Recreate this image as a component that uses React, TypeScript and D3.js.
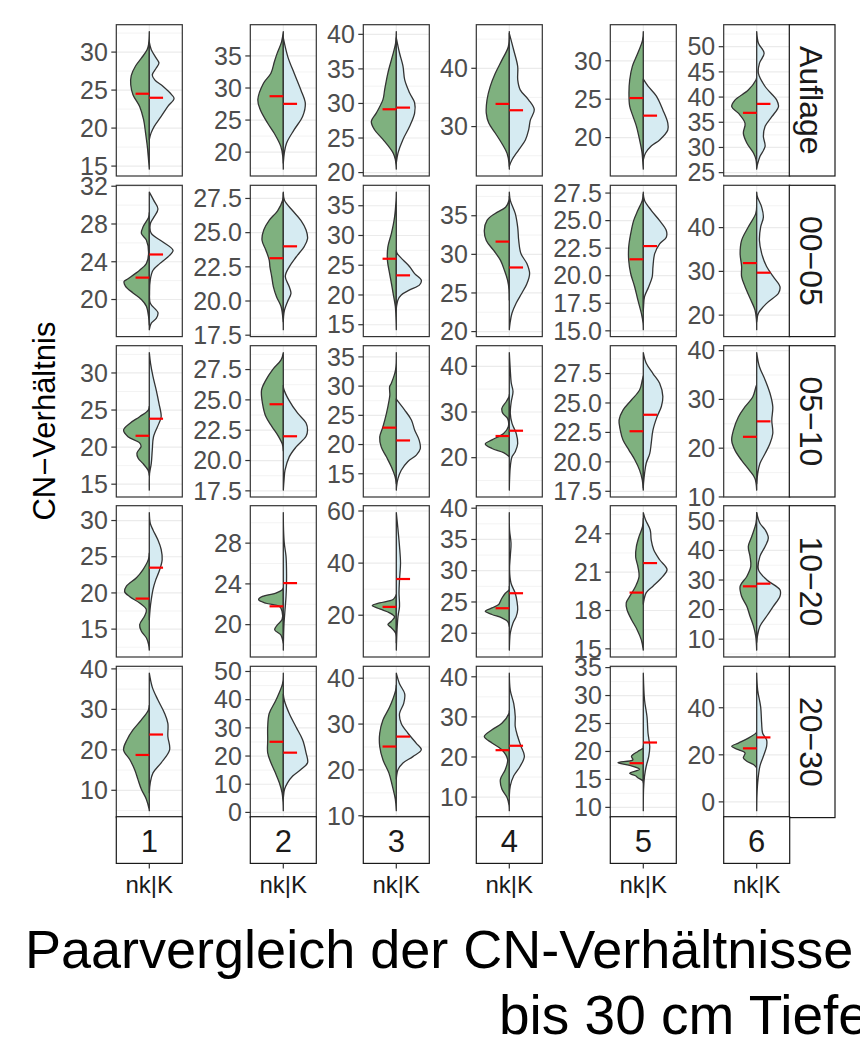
import React from "react";
import * as d3 from "d3";

type Prof = [number, number][]; // [CN value, relative density 0..1]

const depths = ["Auflage", "00−05", "05−10", "10−20", "20−30"];
const sites = ["1", "2", "3", "4", "5", "6"];
const xCategory = "nk|K";
const yTitle = "CN−Verhältnis";
const titleLines = ["Paarvergleich der CN-Verhältnisse", "bis 30 cm Tiefe"];

// y breaks, one list per site, one array per depth
const ticksAuflage = [[15, 20, 25, 30], [20, 25, 30, 35], [20, 25, 30, 35, 40], [30, 40], [20, 25, 30], [25, 30, 35, 40, 45, 50]];
const ticks0005 = [[20, 24, 28, 32], [17.5, 20, 22.5, 25, 27.5], [15, 20, 25, 30, 35], [20, 25, 30, 35], [15, 17.5, 20, 22.5, 25, 27.5], [20, 30, 40]];
const ticks0510 = [[15, 20, 25, 30], [17.5, 20, 22.5, 25, 27.5], [15, 20, 25, 30, 35], [20, 30, 40], [17.5, 20, 22.5, 25, 27.5], [10, 20, 30, 40]];
const ticks1020 = [[15, 20, 25, 30], [20, 24, 28], [20, 40, 60], [20, 25, 30, 35, 40], [15, 18, 21, 24], [10, 20, 30, 40, 50]];
const ticks2030 = [[10, 20, 30, 40], [0, 10, 20, 30, 40, 50], [10, 20, 30, 40], [10, 20, 30, 40], [10, 15, 20, 25, 30, 35], [0, 20, 40]];

// medians (red marks)
const medNk = [
  [24.52, 28.72, 29.16, 33.89, 25.15, 36.87],
  [22.32, 23.13, 26.09, 31.65, 21.49, 31.9],
  [21.53, 24.64, 22.89, 24.74, 22.6, 22.33],
  [19.22, 21.8, 23.2, 24.0, 19.4, 27.87],
  [18.73, 25.06, 25.1, 21.7, 17.9, 22.75],
];
const medK = [
  [23.99, 27.53, 29.4, 32.8, 22.86, 38.65],
  [24.77, 24.0, 23.3, 28.3, 22.69, 29.7],
  [23.83, 22.0, 20.7, 25.9, 24.0, 25.5],
  [23.49, 24.08, 33.9, 26.4, 21.71, 28.76],
  [23.78, 21.2, 27.27, 22.8, 21.6, 27.4],
];

// half-violin profiles
const nkAuflage: Prof[] = [
  [[32.7, 0], [31, 0.03], [30.3, 0.09], [29.2, 0.32], [28.2, 0.55], [26.9, 0.73], [25.7, 0.75], [24.4, 0.66], [22.85, 0.39], [21.1, 0.23], [19.34, 0.15], [17.6, 0.08], [15.8, 0.03], [14.6, 0]],
  [[38.8, 0], [37.2, 0.07], [35.4, 0.25], [34.1, 0.36], [32.3, 0.5], [30.75, 0.8], [28.15, 1.03], [26.6, 0.93], [24.5, 0.63], [22.9, 0.36], [20.9, 0.1], [19.3, 0.02], [17.35, 0]],
  [[40.4, 0], [38.7, 0.03], [36.8, 0.16], [34.4, 0.34], [32, 0.47], [30.55, 0.54], [28.6, 0.81], [27.4, 1.01], [26.2, 0.88], [24.8, 0.54], [22.85, 0.13], [21.9, 0.04], [20.5, 0]],
  [[46.3, 0], [43.7, 0.04], [41.4, 0.3], [39.1, 0.57], [36.9, 0.77], [34.6, 0.9], [32.3, 0.93], [30.6, 0.83], [28.9, 0.57], [27.1, 0.3], [25.4, 0.09], [23.7, 0.01], [22.7, 0]],
  [[33.8, 0], [32.7, 0.03], [31, 0.22], [29.3, 0.44], [27.5, 0.55], [25.8, 0.58], [24.1, 0.55], [22.8, 0.42], [21.5, 0.28], [19.7, 0.15], [18, 0.05], [16.3, 0.01], [15.9, 0]],
  [[43.9, 0], [43.4, 0.03], [41.4, 0.34], [39.4, 0.88], [38.1, 1.01], [36.8, 0.74], [34.8, 0.47], [32.85, 0.54], [30.9, 0.4], [28.9, 0.13], [27.6, 0.03], [25.7, 0]],
];
const kAuflage: Prof[] = [
  [[31.3, 0], [30.3, 0.08], [29.2, 0.28], [28.55, 0.39], [27.9, 0.28], [27.0, 0.12], [26.35, 0.22], [25.5, 0.55], [24.4, 0.9], [23.9, 1.0], [22.85, 0.75], [21.54, 0.48], [20.22, 0.2], [19.34, 0.07], [18.5, 0]],
  [[37.8, 0], [34.9, 0.18], [32.3, 0.44], [29.7, 0.71], [27.6, 0.89], [25.55, 0.78], [23.5, 0.44], [21.4, 0.13], [19.85, 0.04], [18.3, 0]],
  [[39.5, 0], [37.3, 0.13], [35.4, 0.27], [33.4, 0.34], [31.5, 0.54], [30.1, 0.74], [28.6, 0.74], [26.7, 0.54], [24.8, 0.27], [22.85, 0.07], [21.4, 0]],
  [[46, 0], [43.1, 0.18], [40.3, 0.34], [38, 0.34], [36.3, 0.44], [34.6, 0.78], [32.9, 1.01], [31.1, 0.85], [29.4, 0.78], [27.7, 0.65], [26, 0.38], [24.3, 0.11], [23.2, 0]],
  [[27.6, 0], [26.7, 0.19], [25.4, 0.53], [23.6, 0.79], [21.9, 0.99], [21, 0.99], [19.7, 0.66], [18.9, 0.32], [18, 0.09], [17.1, 0]],
  [[53, 0], [50.7, 0.07], [48.7, 0.3], [46.7, 0.11], [44.7, 0.07], [42.1, 0.34], [39.4, 0.81], [38.1, 0.88], [36.1, 0.61], [34.2, 0.34], [32.2, 0.27], [30.2, 0.34], [28.2, 0.13], [26.6, 0.03], [26, 0]],
];
const nk0005: Prof[] = [
  [[29.2, 0], [28.7, 0.03], [27.7, 0.25], [27, 0.32], [26.3, 0.12], [24.9, 0.03], [23.8, 0.12], [23.1, 0.39], [22.2, 0.86], [21.9, 1.02], [21.4, 0.96], [20.7, 0.66], [20, 0.32], [19.3, 0.12], [18.2, 0.03], [17.3, 0]],
  [[27.96, 0], [27.35, 0.03], [26.6, 0.23], [25.9, 0.57], [25.2, 0.79], [24.44, 0.86], [23.7, 0.7], [23, 0.57], [22.5, 0.54], [21.8, 0.47], [21.04, 0.4], [20.3, 0.27], [19.6, 0.09], [18.6, 0.01], [17.9, 0]],
  [[37.28, 0], [35.9, 0.01], [33.1, 0.07], [30.3, 0.2], [28.1, 0.34], [25.9, 0.36], [23.6, 0.27], [22, 0.2], [20.3, 0.13], [18.1, 0.04], [15.8, 0.01], [14.16, 0]],
  [[37.5, 0], [37, 0.01], [36.1, 0.15], [35.3, 0.57], [34.4, 0.9], [33.1, 1.01], [31.8, 0.93], [30.5, 0.63], [29.25, 0.36], [27.96, 0.2], [26.67, 0.07], [25.4, 0.01], [24.1, 0]],
  [[27.58, 0], [26.83, 0.04], [25.93, 0.22], [25, 0.39], [23.8, 0.51], [22.6, 0.59], [21.4, 0.59], [20.2, 0.51], [19, 0.35], [17.8, 0.22], [16.6, 0.08], [15.7, 0.01], [15.1, 0]],
  [[45, 0], [43.2, 0.04], [40.15, 0.34], [37.1, 0.61], [34.1, 0.67], [31.1, 0.61], [28.8, 0.61], [26.5, 0.47], [23.5, 0.24], [21.2, 0.07], [18.9, 0.01], [16.67, 0]],
];
const k0005: Prof[] = [
  [[31.37, 0], [30.5, 0.18], [29.6, 0.35], [28.7, 0.18], [28, 0.04], [27, 0.08], [26.1, 0.55], [25.2, 0.96], [24.5, 0.75], [23.8, 0.42], [23.1, 0.15], [22.1, 0.04], [20.7, 0.01], [19.6, 0.04], [18.6, 0.35], [18, 0.28], [17.5, 0.08], [16.8, 0]],
  [[27.9, 0], [27.35, 0.05], [26.6, 0.38], [25.9, 0.71], [25.2, 0.92], [24.56, 0.98], [24, 0.85], [23.2, 0.51], [22.5, 0.24], [21.8, 0.08], [21.04, 0.24], [20.56, 0.31], [19.95, 0.17], [19.35, 0.05], [18.86, 0.01], [18.5, 0]],
  [[27.5, 0], [27, 0.03], [25.9, 0.27], [24.75, 0.54], [23.6, 0.74], [22.5, 1.01], [21.7, 0.94], [20.85, 0.54], [20, 0.2], [19.2, 0.07], [18.1, 0.01], [17.5, 0]],
  [[38.05, 0], [37, 0.04], [35.3, 0.24], [33.5, 0.34], [31.8, 0.38], [30.1, 0.47], [28.8, 0.71], [27.5, 0.82], [26.2, 0.71], [25, 0.51], [23.7, 0.28], [22.4, 0.11], [21.1, 0.03], [20.24, 0]],
  [[27.4, 0], [26.83, 0.05], [25.93, 0.32], [25, 0.66], [24.1, 0.93], [23.5, 0.93], [22.9, 0.66], [22, 0.46], [20.8, 0.39], [19.9, 0.36], [19, 0.22], [18.1, 0.05], [17.2, 0.01], [16.8, 0]],
  [[48.1, 0], [47, 0.03], [44.7, 0.2], [42.4, 0.27], [40.15, 0.16], [37.1, 0.11], [34.1, 0.2], [31.1, 0.4], [28.8, 0.67], [26.5, 0.94], [25, 0.88], [22.7, 0.4], [20.45, 0.07], [18.9, 0.01], [18.5, 0]],
];
const nk0510: Prof[] = [
  [[25.5, 0], [25, 0.04], [24.1, 0.39], [23.2, 0.79], [22.3, 1.04], [21.4, 0.86], [20.6, 0.4], [20.1, 0.33], [19.2, 0.5], [18.5, 0.45], [17.8, 0.26], [16.9, 0.05], [16.2, 0]],
  [[28.9, 0], [28.3, 0.09], [27.5, 0.43], [26.65, 0.7], [25.8, 0.88], [24.7, 0.84], [23.6, 0.7], [22.8, 0.46], [21.97, 0.19], [21.3, 0.03], [20.8, 0]],
  [[35.74, 0], [32.8, 0.03], [30.5, 0.2], [29.9, 0.27], [28.5, 0.26], [27.6, 0.29], [25.3, 0.4], [23.05, 0.54], [21.3, 0.67], [19.6, 0.61], [17.9, 0.4], [16.2, 0.2], [14.5, 0.05], [13.3, 0]],
  [[33.8, 0], [33.4, 0.01], [32.3, 0.12], [30.8, 0.3], [29.7, 0.26], [28.6, 0.07], [26.8, 0.04], [25.3, 0.23], [23.9, 0.7], [23, 0.97], [22, 0.7], [21.1, 0.23], [20.2, 0]],
  [[27.3, 0], [26.95, 0.04], [26.1, 0.15], [25.25, 0.48], [24.4, 0.82], [23.55, 0.98], [22.7, 0.93], [21.85, 0.82], [21, 0.58], [20.2, 0.35], [19.3, 0.15], [18.45, 0.04], [17.6, 0]],
  [[33, 0], [32.6, 0.03], [30.5, 0.16], [28.5, 0.47], [26.4, 0.74], [23.7, 0.94], [21.6, 1.01], [19.6, 0.88], [17.5, 0.61], [15.5, 0.3], [13.8, 0.07], [11.4, 0]],
];
const k0510: Prof[] = [
  [[32.75, 0], [31.3, 0.05], [29.5, 0.15], [27.7, 0.28], [25.9, 0.39], [24.1, 0.48], [23.2, 0.39], [21.4, 0.17], [19.6, 0.12], [17.8, 0.08], [16.4, 0.01], [14.2, 0]],
  [[26.2, 0], [25.96, 0.01], [25, 0.22], [23.9, 0.58], [23.1, 0.92], [22.5, 0.98], [22, 0.92], [21.1, 0.51], [20.3, 0.24], [19.2, 0.07], [18.4, 0.03], [17.56, 0]],
  [[27.8, 0], [27.6, 0.03], [25.9, 0.34], [24.2, 0.61], [22.5, 0.74], [20.8, 0.92], [19.3, 0.97], [18.2, 0.81], [17.1, 0.47], [15.6, 0.2], [14.2, 0.07], [12.8, 0.01], [12.2, 0]],
  [[43, 0], [39.2, 0.04], [36.3, 0.08], [34.5, 0.15], [32.3, 0.08], [29.7, 0.04], [27.5, 0.11], [25.3, 0.28], [23.1, 0.34], [21.3, 0.24], [20.2, 0.11], [18, 0.04], [15.1, 0.01], [12.9, 0]],
  [[29.28, 0], [28.37, 0.12], [27.5, 0.39], [26.67, 0.66], [25.54, 0.79], [24.7, 0.73], [23.8, 0.55], [22.7, 0.39], [21.57, 0.32], [20.7, 0.26], [19.9, 0.12], [19, 0.05], [18.2, 0.01], [17.8, 0]],
  [[39.6, 0], [36.7, 0.11], [34, 0.34], [31.2, 0.54], [28.5, 0.65], [25.75, 0.61], [23, 0.65], [21, 0.54], [18.9, 0.34], [16.85, 0.13], [14.8, 0.04], [12.7, 0]],
];
const nk1020: Prof[] = [
  [[25.5, 0], [24.6, 0.04], [23.2, 0.26], [22.1, 0.52], [20.9, 0.93], [20.2, 1.0], [19.5, 0.8], [18.6, 0.39], [17.7, 0.12], [16.8, 0.19], [15.6, 0.39], [14.7, 0.32], [13.8, 0.12], [12.9, 0.03], [12.1, 0]],
  [[23.6, 0], [23.4, 0.05], [23.1, 0.3], [22.77, 0.84], [22.45, 1.0], [22.1, 0.7], [21.8, 0.16], [21.3, 0.05], [20.5, 0.05], [20, 0.23], [19.5, 0.35], [19, 0.1], [18.5, 0.03], [18.2, 0]],
  [[28, 0], [27.3, 0.03], [26, 0.13], [24.7, 0.67], [23.7, 0.97], [22.4, 0.67], [20.9, 0.27], [19.4, 0.07], [17.7, 0.2], [16.4, 0.34], [15.2, 0.2], [13.2, 0.03], [9.4, 0]],
  [[27.5, 0], [26.97, 0.01], [26.4, 0.16], [25.6, 0.3], [25.1, 0.36], [24.6, 0.43], [24.05, 0.7], [23.5, 0.97], [23, 0.7], [22.45, 0.3], [21.9, 0.07], [21.1, 0]],
  [[25.2, 0], [24.57, 0.03], [23.8, 0.17], [23, 0.28], [22.2, 0.31], [21.45, 0.22], [20.67, 0.17], [19.9, 0.31], [19.1, 0.55], [18.6, 0.69], [18.08, 0.66], [17.3, 0.48], [16.5, 0.25], [15.7, 0.08], [14.9, 0]],
  [[52.8, 0], [49.2, 0.03], [44.7, 0.2], [41.35, 0.34], [38, 0.27], [34.6, 0.24], [31.2, 0.4], [27.9, 0.67], [24.5, 0.61], [21.1, 0.4], [17.75, 0.27], [14.4, 0.13], [11, 0.04], [6.3, 0]],
];
const k1020: Prof[] = [
  [[31.1, 0], [29.6, 0.04], [28.7, 0.15], [27.3, 0.35], [26, 0.48], [24.6, 0.52], [23.2, 0.42], [21.8, 0.26], [20.5, 0.15], [19.1, 0.08], [17.7, 0.03], [16.3, 0]],
  [[31, 0], [29.3, 0.01], [28, 0.04], [26.7, 0.11], [25.4, 0.13], [24.1, 0.13], [22.77, 0.11], [21.46, 0.07], [20.16, 0.03], [18.85, 0.01], [17.5, 0]],
  [[59.4, 0], [52.7, 0.07], [46.4, 0.13], [40, 0.17], [33.6, 0.13], [28.5, 0.11], [23.4, 0.13], [19.6, 0.07], [14.5, 0.03], [6.6, 0]],
  [[39.3, 0], [36.5, 0.01], [34.4, 0.07], [32.3, 0.04], [30.2, 0.01], [28, 0.07], [26.4, 0.24], [25.1, 0.31], [23.8, 0.34], [22.7, 0.28], [21.65, 0.15], [20.05, 0.04], [18.45, 0.01], [17.3, 0]],
  [[25.66, 0], [25.1, 0.09], [24.3, 0.28], [23.5, 0.32], [22.75, 0.42], [21.97, 0.66], [21.2, 0.96], [20.67, 0.79], [19.9, 0.39], [19.4, 0.12], [18.86, 0.03], [18.5, 0]],
  [[52.8, 0], [49.2, 0.13], [47, 0.34], [44.2, 0.47], [41.35, 0.34], [38, 0.13], [33.5, 0.07], [30.1, 0.4], [26.7, 0.94], [24.5, 0.94], [21.1, 0.67], [17.75, 0.4], [14.4, 0.13], [11, 0.03], [9, 0]],
];
const nk2030: Prof[] = [
  [[31, 0], [29.8, 0.04], [27.4, 0.32], [24.9, 0.66], [22.5, 0.9], [20, 1.04], [17.6, 0.79], [15.1, 0.59], [12.7, 0.46], [10.25, 0.32], [7.8, 0.12], [5.4, 0.01], [4.95, 0]],
  [[49.4, 0], [45.7, 0.03], [39.8, 0.3], [35.1, 0.57], [30.4, 0.63], [25.8, 0.63], [21.1, 0.63], [17.6, 0.5], [14.05, 0.32], [10.5, 0.16], [7, 0.05], [3.5, 0.01], [0.6, 0]],
  [[38.5, 0], [37.3, 0.03], [33.7, 0.27], [30.9, 0.54], [28, 0.67], [25.1, 0.67], [22.2, 0.54], [19.35, 0.3], [16.5, 0.16], [13.6, 0.04], [11.1, 0]],
  [[31.5, 0], [30.9, 0.01], [28.4, 0.3], [26.8, 0.7], [25.1, 1.01], [23.5, 0.7], [21.8, 0.3], [19.4, 0.07], [16.9, 0.16], [14.4, 0.36], [12, 0.3], [9.9, 0.09], [7.9, 0.01], [6.6, 0]],
  [[21, 0], [20.6, 0.01], [20, 0.22], [19.5, 0.4], [19.1, 0.48], [18.5, 0.42], [18, 1.02], [17.5, 0.55], [16.8, 0.15], [16.1, 0.55], [15.6, 0.3], [15.3, 0.22], [14.7, 0.01], [14.4, 0]],
  [[29.8, 0], [29.2, 0.03], [27.1, 0.34], [25, 0.74], [23.6, 1.01], [22.2, 0.74], [20.8, 0.47], [18.7, 0.54], [17.3, 0.4], [15.9, 0.13], [14.5, 0]],
];
const k2030: Prof[] = [
  [[38.94, 0], [35.5, 0.12], [32.3, 0.35], [29, 0.62], [26.55, 0.75], [23.3, 0.75], [20, 0.82], [16.8, 0.48], [14.3, 0.15], [11.9, 0.04], [9.4, 0]],
  [[42, 0], [39.8, 0.04], [35.1, 0.24], [30.4, 0.51], [25.8, 0.78], [21.1, 0.92], [17.6, 0.98], [15.2, 0.71], [12.9, 0.38], [10.5, 0.17], [8.2, 0.05], [5.85, 0.01], [5, 0]],
  [[41.1, 0], [38.8, 0.13], [36.6, 0.34], [34.5, 0.3], [32.3, 0.13], [30.1, 0.2], [28, 0.47], [25.8, 0.81], [24.4, 1.01], [22.9, 0.67], [21.5, 0.27], [20.07, 0.07], [18.6, 0.01], [18, 0]],
  [[40.9, 0], [36.6, 0.04], [33.3, 0.18], [30.1, 0.24], [27.6, 0.24], [25.1, 0.34], [22.7, 0.47], [20.2, 0.61], [17.7, 0.44], [15.3, 0.18], [12.8, 0.04], [10.3, 0]],
  [[34, 0], [29.2, 0.05], [26.2, 0.15], [23.3, 0.19], [20.9, 0.26], [19.1, 0.22], [17.4, 0.12], [15.6, 0.05], [13.2, 0.01], [9.4, 0]],
  [[54.7, 0], [47.4, 0.04], [40.4, 0.16], [33.4, 0.2], [29.2, 0.24], [26.4, 0.4], [23.6, 0.4], [19.4, 0.27], [15.2, 0.13], [8.2, 0.04], [2.6, 0.01], [-3.76, 0]],
];

const tickRows = [ticksAuflage, ticks0005, ticks0510, ticks1020, ticks2030];
const nkRows = [nkAuflage, nk0005, nk0510, nk1020, nk2030];
const kRows = [kAuflage, k0005, k0510, k1020, k2030];

// layout
const W = 860;
const H = 1052;
const colX = [116.3, 250.3, 363.3, 476.3, 610.3, 723.7];
const rowY = [24.7, 185.3, 345.7, 505.7, 666.3];
const panelW = 66;
const panelH = 151.3;
const stripRX = 789.3;
const stripRW = 45.7;
const stripBY = 816.7;
const stripBH = 46.7;
const font = "'Liberation Sans', Arial, Helvetica, sans-serif";

const fillNk = "#7FB17F";
const fillK = "#D6EBF2";
const outline = "#333333";
const grid = "#EBEBEB";

function Panel({ r, c }: { r: number; c: number }) {
  const nk = nkRows[r][c];
  const k = kRows[r][c];
  const ext = d3.extent([...nk, ...k], (d) => d[0]) as [number, number];
  const pad = (ext[1] - ext[0]) * 0.05;
  const lo = ext[0] - pad;
  const hi = ext[1] + pad;
  const y = d3.scaleLinear().domain([lo, hi]).range([panelH, 0]);
  const x = d3.scaleLinear().domain([0.4, 1.6]).range([0, panelW]);
  const br = tickRows[r][c];
  const step = br[1] - br[0];
  const minor = [br[0] - step / 2, ...br.map((b) => b + step / 2)].filter((v) => v >= lo && v <= hi);
  const major = br.filter((v) => v >= lo && v <= hi);
  const dec = br.some((b) => !Number.isInteger(b));
  const fmt = (v: number) => (dec ? v.toFixed(1) : String(v));

  const half = (sign: number) =>
    d3
      .area<[number, number]>()
      .curve(d3.curveCatmullRom)
      .y((d) => y(d[0]))
      .x0(x(1))
      .x1((d) => x(1 + sign * 0.45 * d[1]));

  return (
    <g transform={`translate(${colX[c]},${rowY[r]})`}>
      <rect width={panelW} height={panelH} fill="#fff" />
      {minor.map((v) => (
        <line key={"m" + v} x1={0} x2={panelW} y1={y(v)} y2={y(v)} stroke={grid} strokeWidth={0.6} />
      ))}
      {major.map((v) => (
        <line key={"M" + v} x1={0} x2={panelW} y1={y(v)} y2={y(v)} stroke={grid} strokeWidth={1.2} />
      ))}
      <line x1={x(1)} x2={x(1)} y1={0} y2={panelH} stroke={grid} strokeWidth={1.2} />

      <path d={half(-1)(nk) || ""} fill={fillNk} stroke={outline} strokeWidth={1.3} strokeLinejoin="round" />
      <path d={half(1)(k) || ""} fill={fillK} stroke={outline} strokeWidth={1.3} strokeLinejoin="round" />

      <line x1={x(1)} x2={x(0.75)} y1={y(medNk[r][c])} y2={y(medNk[r][c])} stroke="#FF0000" strokeWidth={2.2} />
      <line x1={x(1)} x2={x(1.25)} y1={y(medK[r][c])} y2={y(medK[r][c])} stroke="#FF0000" strokeWidth={2.2} />

      <rect width={panelW} height={panelH} fill="none" stroke={outline} strokeWidth={1.2} />

      {major.map((v) => (
        <g key={"t" + v} transform={`translate(0,${y(v)})`}>
          <line x1={-5} x2={0} stroke={outline} strokeWidth={1.2} />
          <text x={-8.5} dy="0.35em" textAnchor="end" fontSize={25} fill="#4D4D4D">
            {fmt(v)}
          </text>
        </g>
      ))}
    </g>
  );
}

export default function App() {
  return (
    <svg
      width={W}
      height={H}
      style={{ position: "absolute", left: 0, top: 0, background: "#fff", overflow: "hidden" }}
      fontFamily={font}
    >
      <rect width={W} height={H} fill="#fff" />
      {depths.map((_, r) => sites.map((_, c) => <Panel key={r + "-" + c} r={r} c={c} />))}

      {depths.map((d, r) => (
        <g key={d} transform={`translate(${stripRX},${rowY[r]})`}>
          <rect width={stripRW} height={panelH} fill="#fff" stroke="#1A1A1A" strokeWidth={1.2} />
          <text
            transform={`translate(${10.5},${panelH / 2}) rotate(90)`}
            textAnchor="middle"
            fontSize={32}
            fill="#1A1A1A"
          >
            {d}
          </text>
        </g>
      ))}

      {sites.map((s, c) => (
        <g key={s} transform={`translate(${colX[c]},${stripBY})`}>
          <rect width={panelW} height={stripBH} fill="#fff" stroke="#1A1A1A" strokeWidth={1.2} />
          <text x={panelW / 2} y={35} textAnchor="middle" fontSize={31} fill="#1A1A1A">
            {s}
          </text>
          <line x1={panelW / 2} x2={panelW / 2} y1={stripBH} y2={stripBH + 5} stroke={outline} strokeWidth={1.2} />
          <text x={panelW / 2} y={76} textAnchor="middle" fontSize={24} fill="#1A1A1A">
            {xCategory}
          </text>
        </g>
      ))}

      <text transform="translate(55,421) rotate(-90)" textAnchor="middle" fontSize={31} fill="#000">
        {yTitle}
      </text>

      <text x={25} y={968} fontSize={54} fill="#000">
        {titleLines[0]}
      </text>
      <text x={499} y={1034} fontSize={55} fill="#000">
        {titleLines[1]}
      </text>
    </svg>
  );
}
